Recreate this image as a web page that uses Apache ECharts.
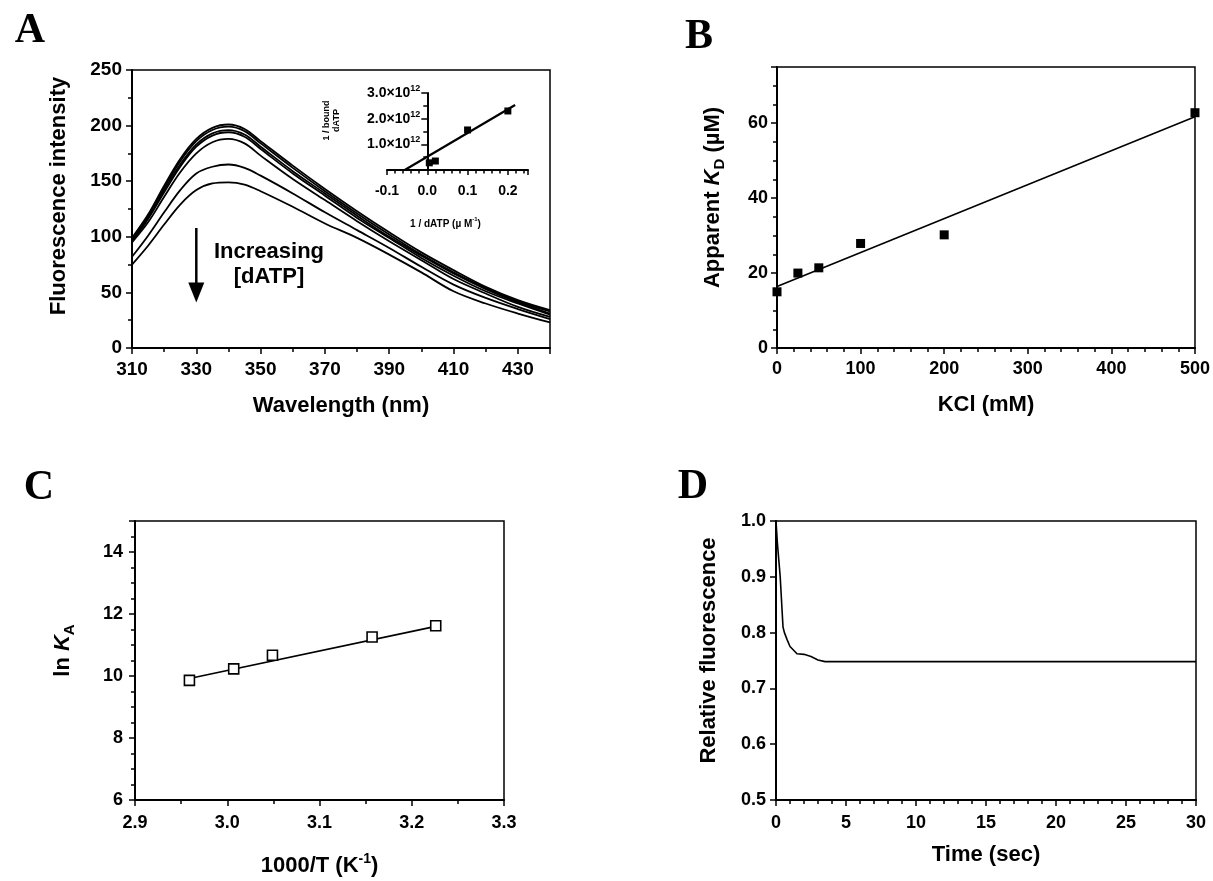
<!DOCTYPE html>
<html><head><meta charset="utf-8">
<script src="https://cdn.jsdelivr.net/npm/echarts@6/dist/echarts.min.js"></script>
<style>html,body{margin:0;padding:0;background:#fff}#c{width:1213px;height:881px}</style>
</head><body><div id="c"></div>
<script>
// ---------- Panel A: emission spectra ----------
const wavelengths = [310,315,320,325,330,335,340,345,350,360,370,380,390,400,410,420,430,440];
const spectrum1 = [99,120,146,170,188,198,201,197,186,164,143,123,104,86,70,55,43,34];
const spectrum2 = [98,119,144,168,186,196,199,195,184,162,141,121,102,84,68,54,42,33];
const spectrum3 = [97,117,142,165,183,193,196,192,181,159,139,119,100,83,67,53,41,31];
const spectrum4 = [96,116,140,163,181,191,194,190,179,157,137,117,99,81,65,51,40,30];
const spectrum5 = [95,113,136,158,175,185,188,184,173,152,133,114,96,79,62,49,37,28];
const spectrum6 = [82,101,122,142,157,163,165,162,155,139,122,106,90,73,57,45,35,26];
const spectrum7 = [75,92,111,129,142,148,149,147,141,127,112,99,84,68,51,40,31,23];
const arrowX = [330, 330];
const arrowY = [108, 50];
// inset double reciprocal
const insetX = [0.005, 0.02, 0.1, 0.2];
const insetY = [0.28e12, 0.35e12, 1.56e12, 2.3e12];
const insetFitX = [-0.056, 0.218];
const insetFitY = [0, 2.53e12];
// ---------- Panel B ----------
const kclConc = [0, 25, 50, 100, 200, 500];
const kdValues = [15, 20, 21.4, 27.9, 30.2, 62.8];
const kdFitX = [0, 500];
const kdFitY = [16.4, 61.7];
// ---------- Panel C ----------
const invTemp = [2.959, 3.007, 3.049, 3.157, 3.226];
const lnKa = [9.86, 10.23, 10.67, 11.26, 11.62];
const lnKaFitX = [2.959, 3.226];
const lnKaFitY = [9.92, 11.6];
// ---------- Panel D ----------
const timeSec = [0, 0.1, 0.3, 0.5, 0.6, 0.8, 1.0, 1.5, 2.0, 2.5, 3.0, 3.5, 30];
const relFluor = [1.0, 0.96, 0.9, 0.81, 0.80, 0.787, 0.775, 0.762, 0.761, 0.757, 0.751, 0.748, 0.748];

const FONT = '"Liberation Sans", Arial, Helvetica, sans-serif';
const SERIF = '"Liberation Serif", "Times New Roman", serif';
const zip = (xs, ys) => xs.map((x, i) => [x, ys[i]]);

function axis(o) {
  return {
    type: 'value', gridIndex: o.g, min: o.min, max: o.max, interval: o.interval, offset: o.offset || 0,
    axisLine: {show: true, onZero: !!o.onZero, lineStyle: {color: '#000', width: o.lw || 2}},
    axisTick: {show: true, inside: false, length: o.tl || 6, lineStyle: {color: '#000', width: 1.5}},
    minorTick: {show: !!o.minor, splitNumber: o.minor || 1, length: o.mtl || 4, lineStyle: {color: '#000', width: 1.5}},
    splitLine: {show: false}, minorSplitLine: {show: false},
    axisLabel: {color: '#000', fontFamily: FONT, fontWeight: 'bold', fontSize: o.fs || 19,
      margin: o.margin || 10, formatter: o.fmt, rich: o.labelRich},
    name: o.name, nameLocation: 'middle', nameGap: o.gap, nameRotate: o.rot,
    nameTextStyle: Object.assign({color: '#000', fontFamily: FONT, fontWeight: 'bold', fontSize: o.nfs || 22,
      padding: o.npad || 0, rich: o.rich}, o.nts || {})
  };
}
const richName = (fs) => ({
  n: {fontFamily: FONT, fontWeight: 'bold', fontSize: fs, color: '#000', lineHeight: fs + 6, verticalAlign: 'middle'},
  i: {fontFamily: FONT, fontWeight: 'bold', fontStyle: 'italic', fontSize: fs, color: '#000', lineHeight: fs + 6, verticalAlign: 'middle'},
  s: {fontFamily: FONT, fontWeight: 'bold', fontSize: Math.round(fs * 0.68), color: '#000', lineHeight: Math.round(fs * 0.62), verticalAlign: 'bottom'},
  p: {fontFamily: FONT, fontWeight: 'bold', fontSize: Math.round(fs * 0.64), color: '#000', lineHeight: Math.round(fs * 0.55), verticalAlign: 'top'}
});
const fmtStep = (step, base, dec) => (v) => {
  const k = (v - base) / step;
  return Math.abs(k - Math.round(k)) < 1e-6 ? v.toFixed(dec) : '';
};

const gridStyle = {show: true, borderColor: '#000', borderWidth: 1.5, backgroundColor: 'transparent'};
const lineS = (xi, data, w, extra) => Object.assign({type: 'line', xAxisIndex: xi, yAxisIndex: xi, data: data,
  showSymbol: false, symbol: 'none', silent: true, lineStyle: {color: '#000', width: w}, animation: false}, extra || {});

const spectra = [spectrum1, spectrum2, spectrum3, spectrum4, spectrum5, spectrum6, spectrum7];
const INSET_LEFT = 387, INSET_W = 141;
// pixel distance from inset grid left to x = 0 (from the inset x-axis range)
const insetZeroOffset = INSET_W * (0 - (-0.1)) / (0.25 - (-0.1));

const option = {
  backgroundColor: '#fff',
  animation: false,
  grid: [
    Object.assign({left: 132, top: 70, width: 418, height: 278}, gridStyle),
    {left: INSET_LEFT, top: 93, width: INSET_W, height: 77, show: false},
    Object.assign({left: 777, top: 67, width: 420, height: 281}, gridStyle),
    Object.assign({left: 135, top: 521, width: 369, height: 279}, gridStyle),
    Object.assign({left: 776, top: 521, width: 420, height: 279}, gridStyle)
  ],
  xAxis: [
    axis({g: 0, min: 310, max: 440, interval: 20, minor: 2, fmt: fmtStep(20, 310, 0), margin: 12,
      name: 'Wavelength (nm)', gap: 47}),
    axis({g: 1, min: -0.1, max: 0.25, interval: 0.1, minor: 5, fs: 14, tl: 5, mtl: 3.5, margin: 14,
      fmt: fmtStep(0.1, -0.1, 1),
      name: '{n|1 / dATP (µ M}{p|-1}{n|)}', gap: 46, npad: [0, 24, 0, 0], rich: richName(10)}),
    axis({g: 2, min: 0, max: 500, interval: 100, minor: 5, fs: 18, margin: 12,
      name: 'KCl (mM)', gap: 46}),
    axis({g: 3, min: 2.9, max: 3.3, interval: 0.1, minor: 2, fs: 18, margin: 14, fmt: fmtStep(0.1, 2.9, 1),
      name: '{n|1000/T (K}{p|-1}{n|)}', gap: 52, rich: richName(22)}),
    axis({g: 4, min: 0, max: 30, interval: 5, minor: 5, fs: 18, margin: 14,
      name: 'Time (sec)', gap: 44})
  ],
  yAxis: [
    axis({g: 0, min: 0, max: 250, interval: 50, minor: 2, fmt: fmtStep(50, 0, 0), margin: 10,
      name: 'Fluorescence intensity', gap: 62, rot: 90, npad: [0, 0, 0, 26]}),
    axis({g: 1, min: 0, max: 3e12, interval: 1e12, minor: 2, fs: 14, tl: 6, mtl: 4, margin: 7,
      offset: -insetZeroOffset,
      fmt: (v) => v === 0 ? '' : '{m|' + (v / 1e12).toFixed(1) + '×10}{s|12}',
      labelRich: {
        m: {fontFamily: FONT, fontWeight: 'bold', fontSize: 14, color: '#000', lineHeight: 18, verticalAlign: 'middle'},
        s: {fontFamily: FONT, fontWeight: 'bold', fontSize: 9, color: '#000', lineHeight: 10, verticalAlign: 'top'}
      },
      name: '1 / bound\ndATP', gap: 86, rot: 90, nfs: 9, npad: [0, 0, 0, 22], nts: {lineHeight: 10}}),
    axis({g: 2, min: 0, max: 75, interval: 20, minor: 4, fs: 18, margin: 9, fmt: fmtStep(20, 0, 0),
      name: '{n|Apparent }{i|K}{s|D}{n| (µM)}', gap: 50, rot: 90, npad: [0, 0, 0, 20], rich: richName(22)}),
    axis({g: 3, min: 6, max: 15, interval: 2, minor: 4, fs: 18, margin: 12, fmt: fmtStep(2, 6, 0),
      name: '{n|ln }{i|K}{s|A}', gap: 58, rot: 90, npad: [0, 0, 0, 20], rich: richName(22)}),
    axis({g: 4, min: 0.5, max: 1.0, interval: 0.1, fs: 18, margin: 10, fmt: fmtStep(0.1, 0.5, 1),
      name: 'Relative fluorescence', gap: 56, rot: 90, npad: [0, 0, 0, 20]})
  ],
  series: [
    ...spectra.map(s => lineS(0, zip(wavelengths, s), 1.8, {smooth: 0.35})),
    lineS(0, [[arrowX[0], arrowY[0]], {value: [arrowX[1], arrowY[1]], symbol: 'triangle', symbolSize: [16, 20], symbolRotate: 180}], 2.5,
      {showSymbol: true, symbol: 'none', itemStyle: {color: '#000', opacity: 1}}),
    lineS(1, zip(insetFitX, insetFitY), 2.2),
    {type: 'scatter', xAxisIndex: 1, yAxisIndex: 1, data: zip(insetX, insetY), symbol: 'rect', symbolSize: 7,
      itemStyle: {color: '#000', opacity: 1}, silent: true},
    lineS(2, zip(kdFitX, kdFitY), 1.6),
    {type: 'scatter', xAxisIndex: 2, yAxisIndex: 2, data: zip(kclConc, kdValues), symbol: 'rect', symbolSize: 9,
      itemStyle: {color: '#000', opacity: 1}, silent: true},
    lineS(3, zip(lnKaFitX, lnKaFitY), 1.6),
    {type: 'scatter', xAxisIndex: 3, yAxisIndex: 3, data: zip(invTemp, lnKa), symbol: 'rect', symbolSize: 10, z: 5,
      itemStyle: {color: '#fff', borderColor: '#000', borderWidth: 1.6, opacity: 1}, silent: true},
    lineS(4, zip(timeSec, relFluor), 1.6)
  ],
  graphic: [
    {type: 'text', x: 30, y: 31, style: {text: 'A', font: 'bold 42px ' + SERIF, fill: '#000', align: 'center', verticalAlign: 'middle'}},
    {type: 'text', x: 699, y: 37, style: {text: 'B', font: 'bold 42px ' + SERIF, fill: '#000', align: 'center', verticalAlign: 'middle'}},
    {type: 'text', x: 39, y: 488, style: {text: 'C', font: 'bold 42px ' + SERIF, fill: '#000', align: 'center', verticalAlign: 'middle'}},
    {type: 'text', x: 693, y: 487, style: {text: 'D', font: 'bold 42px ' + SERIF, fill: '#000', align: 'center', verticalAlign: 'middle'}},
    {type: 'text', x: 269, y: 252, style: {text: 'Increasing', font: 'bold 22px ' + FONT, fill: '#000', align: 'center', verticalAlign: 'middle'}},
    {type: 'text', x: 269, y: 277, style: {text: '[dATP]', font: 'bold 22px ' + FONT, fill: '#000', align: 'center', verticalAlign: 'middle'}}
  ]
};
const chart = echarts.init(document.getElementById('c'), null, {renderer: 'canvas'});
chart.setOption(option);
</script>
</body></html>
